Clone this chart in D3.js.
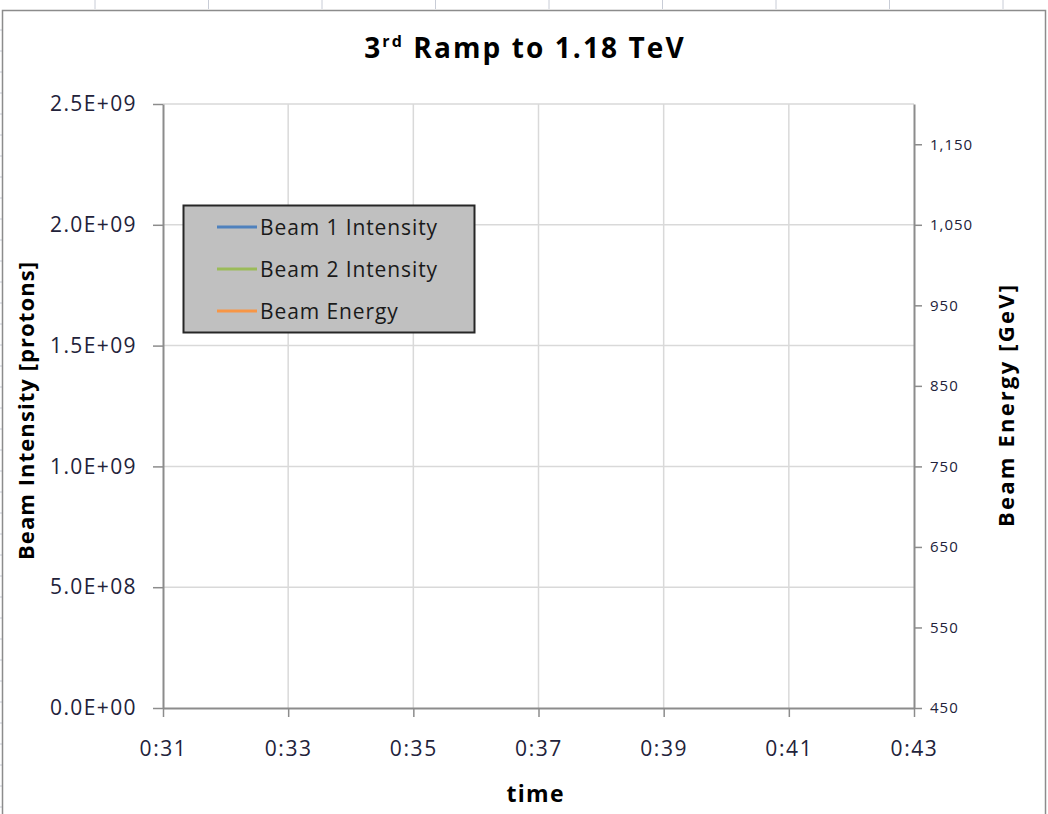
<!DOCTYPE html>
<html>
<head>
<meta charset="utf-8">
<script src="https://cdn.jsdelivr.net/npm/d3@7/dist/d3.min.js"></script>
<style>
  html, body { margin: 0; padding: 0; background: #fff; }
  svg { display: block; font-family: "Open Sans", Lato, sans-serif; }
</style>
</head>
<body>
<svg id="chart" width="1048" height="814"></svg>
<script>
// --- chart data -----------------------------------------------------------
const chartTitle = "Ramp to 1.18 TeV";
const timeTicks = ["0:31", "0:33", "0:35", "0:37", "0:39", "0:41", "0:43"];
const intensityTicks = [0, 5e8, 1e9, 1.5e9, 2e9, 2.5e9];
const energyTicks = [450, 550, 650, 750, 850, 950, 1050, 1150];
const energyDomain = [450, 1200];
const seriesNames = ["Beam 1 Intensity", "Beam 2 Intensity", "Beam Energy"];
const seriesAxis = ["left", "left", "right"];
// logged samples: [time "H:MM:SS", value]; no samples fall in this window
const beam1Intensity = [];
const beam2Intensity = [];
const beamEnergy = [];
const seriesColors = ["#4f81bd", "#9bbb59", "#f79646"];

// --- layout ---------------------------------------------------------------
const svg = d3.select("#chart");
const W = 1048, H = 814;
const plot = { left: 163, right: 914, top: 104, bottom: 708 };
const FONT = "'Open Sans', Lato, sans-serif";

const parseTime = s => {
  const p = s.split(":").map(Number);
  return new Date(2009, 11, 8, p[0], p[1], p[2] || 0);
};

const x = d3.scaleTime()
  .domain([parseTime(timeTicks[0]), parseTime(timeTicks[timeTicks.length - 1])])
  .range([plot.left, plot.right]);
const yL = d3.scaleLinear()
  .domain([intensityTicks[0], intensityTicks[intensityTicks.length - 1]])
  .range([plot.bottom, plot.top]);
const yR = d3.scaleLinear().domain(energyDomain).range([plot.bottom, plot.top]);

const sciFmt = v => {
  const [m, e] = v.toExponential(1).split("e");
  const sign = e[0] === "-" ? "-" : "+";
  const digits = e.replace(/[+-]/, "").padStart(2, "0");
  return m + "E" + sign + digits;
};

// --- spreadsheet backdrop ----------------------------------------------------
const sheetCols = d3.range(95, W, 113.5);
svg.append("g").selectAll("line").data(sheetCols).join("line")
  .attr("x1", d => d).attr("x2", d => d).attr("y1", 0).attr("y2", 9)
  .attr("stroke", "#c8ccd6").attr("stroke-width", 1);
svg.append("g").selectAll("line").data(d3.range(30, H, 21)).join("line")
  .attr("x1", 0).attr("x2", 2).attr("y1", d => d).attr("y2", d => d)
  .attr("stroke", "#c8ccd6").attr("stroke-width", 1);

// chart area frame
svg.append("rect")
  .attr("x", 2.5).attr("y", 10.5).attr("width", W - 5).attr("height", H)
  .attr("fill", "#fff").attr("stroke", "#8c8c8c").attr("stroke-width", 1.5);

// --- gridlines --------------------------------------------------------------
const grid = svg.append("g").attr("stroke", "#d9d9d9").attr("stroke-width", 1.5);
grid.selectAll("line.h").data(intensityTicks.slice(1)).join("line")
  .attr("class", "h")
  .attr("x1", plot.left).attr("x2", plot.right)
  .attr("y1", d => yL(d)).attr("y2", d => yL(d));
grid.selectAll("line.v").data(timeTicks.slice(1, -1)).join("line")
  .attr("class", "v")
  .attr("x1", d => x(parseTime(d))).attr("x2", d => x(parseTime(d)))
  .attr("y1", plot.top).attr("y2", plot.bottom);

// --- axes -------------------------------------------------------------------
const axisColor = "#8c8c8c";
function styleAxis(g, fontSize, spacing) {
  g.select(".domain").attr("stroke", axisColor).attr("stroke-width", 2);
  g.selectAll(".tick line").attr("stroke", axisColor).attr("stroke-width", 1.5);
  g.selectAll(".tick text").attr("fill", "#22223a")
    .style("font-size", fontSize + "px")
    .style("letter-spacing", spacing + "px")
    .style("font-family", FONT);
}

const xAxis = svg.append("g")
  .attr("transform", `translate(0,${plot.bottom})`)
  .call(d3.axisBottom(x)
    .tickValues(timeTicks.map(parseTime))
    .tickFormat(d3.timeFormat("%-H:%M"))
    .tickSize(9).tickSizeOuter(0).tickPadding(24));
styleAxis(xAxis, 21, 1.6);

const leftAxis = svg.append("g")
  .attr("transform", `translate(${plot.left},0)`)
  .call(d3.axisLeft(yL)
    .tickValues(intensityTicks).tickFormat(sciFmt)
    .tickSize(10).tickSizeOuter(0).tickPadding(16));
styleAxis(leftAxis, 21, 1.4);

const rightAxis = svg.append("g")
  .attr("transform", `translate(${plot.right},0)`)
  .call(d3.axisRight(yR)
    .tickValues(energyTicks).tickFormat(d3.format(","))
    .tickSize(8).tickSizeOuter(0).tickPadding(8));
styleAxis(rightAxis, 15, 1);

// --- series lines -----------------------------------------------------------
const seriesData = [beam1Intensity, beam2Intensity, beamEnergy];
const linesG = svg.append("g").attr("fill", "none").attr("stroke-width", 2.25);
seriesData.forEach((data, i) => {
  const yScale = seriesAxis[i] === "left" ? yL : yR;
  const line = d3.line().x(d => x(parseTime(d[0]))).y(d => yScale(d[1]));
  linesG.append("path").datum(data)
    .attr("stroke", seriesColors[i])
    .attr("d", data.length ? line(data) : null);
});

// --- titles -----------------------------------------------------------------
const title = svg.append("text")
  .attr("x", 525).attr("y", 58).attr("text-anchor", "middle")
  .style("font-size", "28px").style("font-weight", "bold").attr("fill", "#000")
  .style("letter-spacing", "2.1px");
title.append("tspan").text("3");
title.append("tspan").attr("dy", -11).style("font-size", "16px").text("rd");
title.append("tspan").attr("dy", 11).text(" " + chartTitle);

svg.append("text")
  .attr("x", 535).attr("y", 802).attr("text-anchor", "middle")
  .attr("textLength", 57).attr("lengthAdjust", "spacing")
  .style("font-size", "23px").style("font-weight", "bold").attr("fill", "#000")
  .text("time");

svg.append("text")
  .attr("transform", `translate(34,411) rotate(-90)`)
  .attr("text-anchor", "middle")
  .attr("textLength", 298).attr("lengthAdjust", "spacing")
  .style("font-size", "22px").style("font-weight", "bold").attr("fill", "#000")
  .text("Beam Intensity [protons]");

svg.append("text")
  .attr("transform", `translate(1014,406) rotate(-90)`)
  .attr("text-anchor", "middle")
  .attr("textLength", 242).attr("lengthAdjust", "spacing")
  .style("font-size", "22px").style("font-weight", "bold").attr("fill", "#000")
  .text("Beam Energy [GeV]");

// --- legend -----------------------------------------------------------------
const legend = svg.append("g").attr("transform", "translate(183,205)");
legend.append("rect")
  .attr("x", 0.5).attr("y", 0.5).attr("width", 291).attr("height", 127)
  .attr("fill", "#c0c0c0").attr("stroke", "#262626").attr("stroke-width", 2);
const rows = legend.selectAll("g.row").data(seriesNames).join("g")
  .attr("class", "row")
  .attr("transform", (d, i) => `translate(0,${22 + i * 42})`);
rows.append("line")
  .attr("x1", 34).attr("x2", 74).attr("y1", 0).attr("y2", 0)
  .attr("stroke", (d, i) => seriesColors[i]).attr("stroke-width", 3);
rows.append("text")
  .attr("x", 77).attr("y", 8)
  .style("font-size", "21px").style("letter-spacing", "0.9px")
  .attr("fill", "#1a1a1a")
  .text(d => d);
</script>
</body>
</html>
